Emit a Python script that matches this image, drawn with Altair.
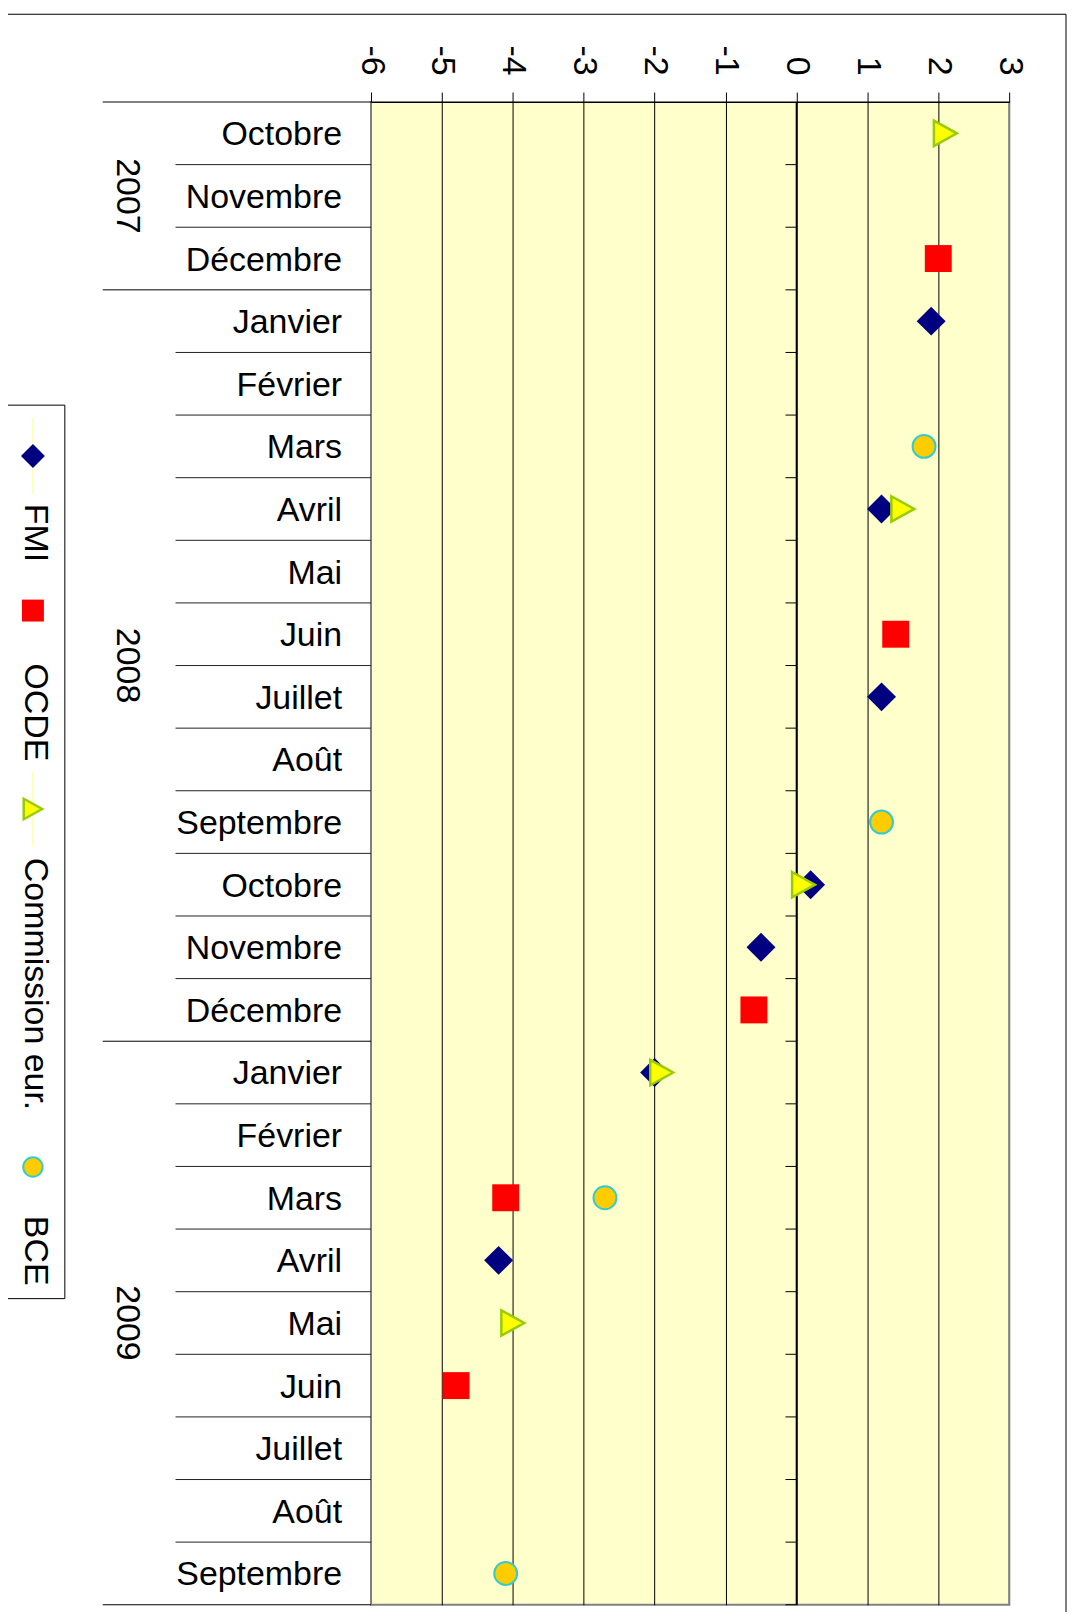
import pandas as pd
import altair as alt

# Month rows, top to bottom
months = ["Octobre", "Novembre", "Décembre",
          "Janvier", "Février", "Mars", "Avril", "Mai", "Juin", "Juillet",
          "Août", "Septembre", "Octobre", "Novembre", "Décembre",
          "Janvier", "Février", "Mars", "Avril", "Mai", "Juin", "Juillet",
          "Août", "Septembre"]
years = ["2007"] * 3 + ["2008"] * 12 + ["2009"] * 9

series = ["FMI", "OCDE", "Commission eur.", "BCE"]
fmi = [None, None, None, 1.9, None, None, 1.2, None, None, 1.2, None, None,
       0.2, -0.5, None, -2.0, None, None, -4.2, None, None, None, None, None]
ocde = [None, None, 2.0, None, None, None, None, None, 1.4, None, None, None,
        None, None, -0.6, None, None, -4.1, None, None, -4.8, None, None, None]
comm = [2.1, None, None, None, None, None, 1.5, None, None, None, None, None,
        0.1, None, None, -1.9, None, None, None, -4.0, None, None, None, None]
bce = [None, None, None, None, None, 1.8, None, None, None, None, None, 1.2,
       None, None, None, None, None, -2.7, None, None, None, None, None, -4.1]

x_ticks = list(range(-6, 4))

FONT = "Liberation Sans"
FS = 34
W, H = 640, 1507

# styles per series: shape, size, fill, stroke, legend size
tri = "M-0.9,-1L0.9,0L-0.9,1Z"
styles = {
    "FMI": dict(shape="diamond", size=841, fill="#000080", stroke="#000080", sw=0, lsize=576, line=True),
    "OCDE": dict(shape="square", size=729, fill="#FF0000", stroke="#FF0000", sw=0, lsize=484, line=False),
    "Commission eur.": dict(shape=tri, size=650, fill="#FFFF00", stroke="#99CC00", sw=2.5, lsize=420, line=True),
    "BCE": dict(shape="circle", size=529, fill="#FFCC00", stroke="#33CCCC", sw=2, lsize=380, line=False),
}

rows = []
for name, vals in zip(series, [fmi, ocde, comm, bce]):
    for i, v in enumerate(vals):
        if v is not None:
            rows.append({"serie": name, "pos": i + 0.5, "value": v})
pts = pd.DataFrame(rows)

n = len(months)
y_scale = alt.Scale(domain=[0, n], reverse=True, nice=False, zero=False)
x_scale = alt.Scale(domain=[-6, 3], nice=False, zero=False)
x_axis = alt.Axis(orient="top", values=x_ticks, labelAngle=90, labelAlign="right",
                  labelBaseline="middle", tickSize=10, labelPadding=17,
                  labelExpr="toString(datum.value)",
                  grid=True, gridColor=alt.condition("datum.value == -6 || datum.value == 3",
                                                     alt.value("#808080"), alt.value("#000000")),
                  domainColor="#000000", tickColor="#000000", labelFont=FONT,
                  labelFontSize=FS, labelColor="#000000", title="")
X = alt.X("value:Q", scale=x_scale, axis=x_axis)
Y = alt.Y("pos:Q", scale=y_scale, axis=None)

# boundaries between rows
year_starts = [0] + [i for i in range(1, n) if years[i] != years[i - 1]] + [n]
bounds = pd.DataFrame({"pos": list(range(n + 1)), "value": 0})
month_b = bounds[~bounds.pos.isin(year_starts)]
year_b = bounds[bounds.pos.isin(year_starts)]

zero_line = alt.Chart(pd.DataFrame({"value": [0]})).mark_rule(color="black", strokeWidth=1.5).encode(x=X)
zero_ticks = alt.Chart(bounds[bounds.pos > 0]).mark_rule(color="black", xOffset=-11).encode(
    x=X, x2="value", y=Y)

month_sep = alt.Chart(month_b).mark_rule(color="#222222").encode(
    x=alt.value(-196), x2=alt.value(0), y=Y)
year_sep = alt.Chart(year_b).mark_rule(color="#000000").encode(
    x=alt.value(-269), x2=alt.value(0), y=Y)

month_df = pd.DataFrame({"pos": [i + 0.5 for i in range(n)], "label": months})
month_text = alt.Chart(month_df).mark_text(
    align="right", baseline="middle", dy=2, font=FONT, fontSize=FS, color="black"
).encode(x=alt.value(-29), y=Y, text="label:N")

year_df = pd.DataFrame({
    "label": [years[s] for s in year_starts[:-1]],
    "pos": [(a + b) / 2 for a, b in zip(year_starts[:-1], year_starts[1:])],
})
year_text = alt.Chart(year_df).mark_text(
    align="center", baseline="alphabetic", angle=90, font=FONT, fontSize=FS, color="black"
).encode(x=alt.value(-255), y=Y, text="label:N")

point_layers = []
for name in series:
    s = styles[name]
    point_layers.append(
        alt.Chart(pts[pts.serie == name]).mark_point(
            shape=s["shape"], size=s["size"], filled=True, fill=s["fill"],
            stroke=s["stroke"], strokeWidth=s["sw"], opacity=1
        ).encode(x=X, y=Y)
    )

# frame and legend (pixel layout relative to plot origin)
one = pd.DataFrame({"k": [0]})
frame = alt.Chart(one).mark_rect(fill="transparent", stroke="black", strokeWidth=1).encode(
    x=alt.value(-380), x2=alt.value(697), y=alt.value(-88), y2=alt.value(1540))
legend_box = alt.Chart(one).mark_rect(fill="white", stroke="black", strokeWidth=1).encode(
    x=alt.value(-369), x2=alt.value(-307), y=alt.value(304), y2=alt.value(1200))

legend_marker_y = [355, 510, 709, 1068]
legend_text_y = [403, 563, 758, 1117]
legend_layers = []
for name, my, ty in zip(series, legend_marker_y, legend_text_y):
    s = styles[name]
    if s["line"]:
        legend_layers.append(alt.Chart(one).mark_rule(color="#FFFFAA", strokeWidth=1.5).encode(
            x=alt.value(-339), y=alt.value(my - 38), y2=alt.value(my + 38)))
    legend_layers.append(alt.Chart(one).mark_point(
        shape=s["shape"], size=s["lsize"], filled=True, fill=s["fill"],
        stroke=s["stroke"], strokeWidth=s["sw"], opacity=1
    ).encode(x=alt.value(-339), y=alt.value(my)))
    legend_layers.append(alt.Chart(pd.DataFrame({"t": [name]})).mark_text(
        align="left", baseline="alphabetic", angle=90, font=FONT, fontSize=FS, color="black"
    ).encode(x=alt.value(-347), y=alt.value(ty), text="t:N"))

chart = alt.layer(
    frame, zero_line, zero_ticks, month_sep, year_sep, month_text, year_text,
    *point_layers, legend_box, *legend_layers
).properties(
    width=W, height=H,
    autosize=alt.AutoSizeParams(type="none"),
    padding={"left": 364, "top": 92, "right": 60, "bottom": 5},
).configure_view(
    fill="#FFFFCC", stroke="#808080", strokeWidth=2
)

chart.save("out.html", embed_options={"renderer": "svg", "actions": False})
